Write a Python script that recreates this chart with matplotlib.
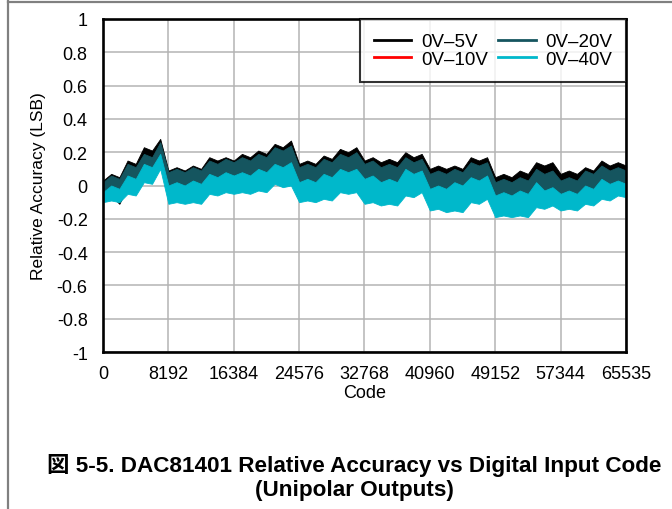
import numpy as np
import matplotlib
matplotlib.use('Agg')
import matplotlib.pyplot as plt
from matplotlib.lines import Line2D

plt.rcParams['font.family'] = ['Liberation Sans', 'DejaVu Sans']

# envelope of each trace, one value every 1024 codes
codes = np.minimum(np.arange(0, 65537, 1024), 65535)

black_hi = [0.03, 0.07, 0.05, 0.15, 0.13, 0.23, 0.21, 0.28, 0.09, 0.11, 0.09, 0.12, 0.10, 0.17, 0.15, 0.17,
            0.15, 0.19, 0.17, 0.21, 0.19, 0.25, 0.23, 0.27, 0.13, 0.15, 0.13, 0.18, 0.16, 0.22, 0.20, 0.23,
            0.15, 0.17, 0.14, 0.16, 0.14, 0.20, 0.17, 0.19, 0.10, 0.12, 0.10, 0.12, 0.10, 0.17, 0.15, 0.17,
            0.05, 0.07, 0.05, 0.09, 0.07, 0.14, 0.12, 0.14, 0.07, 0.09, 0.07, 0.11, 0.09, 0.15, 0.12, 0.14, 0.12]
black_lo = [-0.07, -0.06, -0.11, -0.01, -0.02, 0.06, 0.05, 0.14, -0.07, -0.06, -0.07, -0.06, -0.07, -0.01, -0.02, 0.00,
            -0.01, 0.00, -0.01, 0.01, 0.00, 0.05, 0.03, 0.04, -0.06, -0.05, -0.06, -0.04, -0.05, 0.00, -0.01, 0.00,
            -0.07, -0.06, -0.08, -0.07, -0.08, -0.02, -0.03, 0.00, -0.11, -0.10, -0.12, -0.11, -0.12, -0.06, -0.07, -0.04,
            -0.15, -0.14, -0.15, -0.14, -0.15, -0.09, -0.10, -0.08, -0.11, -0.10, -0.11, -0.07, -0.08, -0.04, -0.05, -0.02, -0.03]

red_hi = [-0.01, 0.03, 0.01, 0.10, 0.08, 0.16, 0.14, 0.23, 0.05, 0.07, 0.05, 0.08, 0.06, 0.12, 0.10, 0.13,
          0.11, 0.14, 0.12, 0.16, 0.14, 0.20, 0.18, 0.21, 0.08, 0.10, 0.08, 0.13, 0.11, 0.16, 0.14, 0.17,
          0.10, 0.12, 0.08, 0.10, 0.08, 0.14, 0.11, 0.13, 0.04, 0.06, 0.04, 0.07, 0.05, 0.11, 0.09, 0.11,
          -0.01, 0.01, -0.01, 0.02, 0.00, 0.07, 0.04, 0.06, 0.00, 0.02, 0.00, 0.06, 0.04, 0.09, 0.06, 0.08, 0.06]
red_lo = [-0.04, -0.03, -0.04, 0.01, 0.00, 0.08, 0.07, 0.16, -0.05, -0.04, -0.05, -0.04, -0.05, 0.01, 0.00, 0.02,
          0.01, 0.02, 0.01, 0.03, 0.02, 0.07, 0.05, 0.06, -0.04, -0.03, -0.04, -0.02, -0.03, 0.02, 0.01, 0.02,
          -0.05, -0.04, -0.06, -0.05, -0.06, 0.00, -0.01, 0.02, -0.09, -0.08, -0.10, -0.09, -0.10, -0.04, -0.05, -0.02,
          -0.13, -0.12, -0.13, -0.12, -0.13, -0.07, -0.08, -0.06, -0.09, -0.08, -0.09, -0.05, -0.06, -0.02, -0.03, 0.00, -0.01]

teal_hi = [0.02, 0.06, 0.04, 0.13, 0.11, 0.19, 0.17, 0.26, 0.08, 0.10, 0.08, 0.11, 0.09, 0.15, 0.13, 0.16,
           0.14, 0.17, 0.15, 0.19, 0.17, 0.23, 0.21, 0.24, 0.11, 0.13, 0.11, 0.16, 0.14, 0.19, 0.17, 0.20,
           0.13, 0.15, 0.11, 0.13, 0.11, 0.17, 0.14, 0.16, 0.07, 0.09, 0.07, 0.10, 0.08, 0.14, 0.12, 0.14,
           0.02, 0.04, 0.02, 0.05, 0.03, 0.10, 0.07, 0.09, 0.03, 0.05, 0.03, 0.09, 0.07, 0.12, 0.09, 0.11, 0.09]
teal_lo = [-0.05, -0.04, -0.05, 0.00, -0.01, 0.07, 0.06, 0.15, -0.06, -0.05, -0.06, -0.05, -0.06, 0.00, -0.01, 0.01,
           0.00, 0.01, 0.00, 0.02, 0.01, 0.06, 0.04, 0.05, -0.05, -0.04, -0.05, -0.03, -0.04, 0.01, 0.00, 0.01,
           -0.06, -0.05, -0.07, -0.06, -0.07, -0.01, -0.02, 0.01, -0.10, -0.09, -0.11, -0.10, -0.11, -0.05, -0.06, -0.03,
           -0.14, -0.13, -0.14, -0.13, -0.14, -0.08, -0.09, -0.07, -0.10, -0.09, -0.10, -0.06, -0.07, -0.03, -0.04, -0.01, -0.02]

cyan_hi = [-0.04, 0.00, -0.02, 0.06, 0.04, 0.13, 0.11, 0.19, 0.00, 0.02, 0.00, 0.03, 0.01, 0.07, 0.05, 0.08,
           0.06, 0.08, 0.06, 0.10, 0.08, 0.13, 0.11, 0.14, 0.02, 0.04, 0.02, 0.07, 0.05, 0.10, 0.08, 0.10,
           0.04, 0.06, 0.02, 0.04, 0.02, 0.10, 0.07, 0.09, -0.02, 0.00, -0.02, 0.02, 0.00, 0.05, 0.03, 0.06,
           -0.06, -0.04, -0.06, -0.03, -0.05, 0.02, -0.03, -0.01, -0.05, -0.03, -0.05, 0.00, -0.02, 0.04, 0.01, 0.03, 0.01]
cyan_lo = [-0.10, -0.09, -0.10, -0.05, -0.06, 0.02, 0.01, 0.10, -0.11, -0.10, -0.11, -0.10, -0.11, -0.05, -0.06, -0.04,
           -0.05, -0.04, -0.05, -0.03, -0.04, 0.01, -0.01, 0.00, -0.10, -0.09, -0.10, -0.08, -0.09, -0.04, -0.05, -0.04,
           -0.11, -0.10, -0.12, -0.11, -0.12, -0.06, -0.07, -0.04, -0.15, -0.14, -0.16, -0.15, -0.16, -0.10, -0.11, -0.08,
           -0.19, -0.18, -0.19, -0.18, -0.19, -0.13, -0.14, -0.12, -0.15, -0.14, -0.15, -0.11, -0.12, -0.08, -0.09, -0.06, -0.07]

labels = ['0V\u20135V', '0V\u201310V', '0V\u201320V', '0V\u201340V']
colors = ['#000000', '#ff0000', '#15555f', '#00b8cb']
xticks = [0, 8192, 16384, 24576, 32768, 40960, 49152, 57344, 65535]

fig = plt.figure(figsize=(6.72, 5.10), dpi=100)
ax = fig.add_axes([0.1533, 0.3078, 0.7782, 0.653])

# draw order: red underneath, then black, teal, cyan
bands = [(red_lo, red_hi, 1), (black_lo, black_hi, 0), (teal_lo, teal_hi, 2), (cyan_lo, cyan_hi, 3)]
for lo, hi, i in bands:
    ax.fill_between(codes, lo, hi, color=colors[i], linewidth=0.6, edgecolor=colors[i])

ax.set_xlim(0, 65535)
ax.set_ylim(-1, 1)
ax.set_xticks(xticks)
ax.set_yticks(np.arange(-1, 1.01, 0.2))
ax.set_yticklabels(['-1', '-0.8', '-0.6', '-0.4', '-0.2', '0', '0.2', '0.4', '0.6', '0.8', '1'])
ax.tick_params(length=0, labelsize=13)
ax.tick_params(axis='y', pad=11)
ax.tick_params(axis='x', pad=9)
ax.grid(True, color='#b4b4b4', linewidth=1.1)
ax.set_axisbelow(True)
for sp in ax.spines.values():
    sp.set_linewidth(1.9)
    sp.set_zorder(5)

ax.set_xlabel('Code', fontsize=13, labelpad=2)
ax.set_ylabel('Relative Accuracy (LSB)', fontsize=12.5, labelpad=8)

handles = [Line2D([], [], color=c, linewidth=2.0) for c in colors]
leg = ax.legend(handles, labels, ncol=2, loc='upper right', fontsize=13.5,
                frameon=True, fancybox=False, borderaxespad=0, borderpad=0.75,
                handlelength=2.0, handletextpad=0.5, columnspacing=0.55,
                labelspacing=0.02)
leg.get_frame().set_edgecolor('black')
leg.get_frame().set_linewidth(1.5)
leg.set_zorder(6)

fig.text(0.527, 0.0637, '図 5-5. DAC81401 Relative Accuracy vs Digital Input Code\n(Unipolar Outputs)',
         ha='center', va='center', fontsize=16.2, fontweight='bold', linespacing=1.15,
         family=['Liberation Sans', 'Noto Sans CJK JP'])

# page border lines
fig.add_artist(Line2D([0.012, 0.012], [0, 1], color='#808080', linewidth=1.6))
fig.add_artist(Line2D([0.012, 1], [0.995, 0.995], color='#808080', linewidth=1.6))

fig.savefig('out.png', dpi=100)
